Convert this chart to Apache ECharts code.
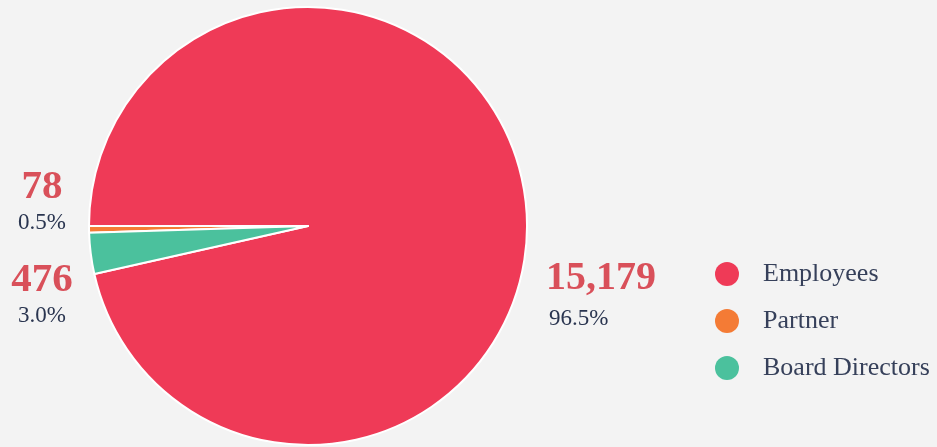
<!DOCTYPE html>
<html>
<head>
<meta charset="utf-8">
<script src="https://cdn.jsdelivr.net/npm/echarts@6/dist/echarts.min.js"></script>
<style>
html,body{margin:0;padding:0;background:#f3f3f3;}
#chart{width:937px;height:447px;}
</style>
</head>
<body>
<div id="chart"></div>
<script>
const categories = ['Employees', 'Partner', 'Board Directors'];
const values = [15179, 78, 476];
const colors = ['#EF3A57', '#F47B35', '#4BC19D'];

const total = values.reduce((a, b) => a + b, 0);
// counter-clockwise drawing so that Partner and Board sit just below 9 o'clock
const startAngle = 180 - 360 * values[0] / total + 360;

const labelPos = [
  { x: 546, y: 296, align: 'left' },
  { x: 42, y: 202, align: 'center' },
  { x: 42, y: 295, align: 'center' }
];

const serif = '"Liberation Serif", "DejaVu Serif", serif';

function fmt(n) { return n.toLocaleString('en-US'); }

const chart = echarts.init(document.getElementById('chart'));
chart.setOption({
  backgroundColor: '#f3f3f3',
  animation: false,
  legend: {
    orient: 'vertical',
    left: 710,
    top: 256,
    icon: 'circle',
    itemWidth: 24,
    itemHeight: 24,
    itemGap: 21,
    data: categories,
    itemStyle: { borderWidth: 0 },
    textStyle: {
      fontFamily: serif,
      fontSize: 26,
      color: '#36405A',
      padding: [0, 0, 0, 19]
    }
  },
  series: [{
    type: 'pie',
    center: [308, 226],
    radius: 219,
    startAngle: startAngle,
    clockwise: false,
    itemStyle: { borderColor: '#ffffff', borderWidth: 2 },
    labelLine: { show: false },
    emphasis: { disabled: true },
    label: {
      show: true,
      position: 'outside',
      overflow: 'none',
      formatter: p => '{n|' + fmt(p.value) + '}\n{p|' + p.percent.toFixed(1) + '%}',
      rich: {
        n: { fontFamily: serif, fontWeight: 'bold', fontSize: 41, color: '#D9505A', lineHeight: 42 },
        p: { fontFamily: serif, fontSize: 23, color: '#2A3550', lineHeight: 30 }
      }
    },
    labelLayout: function (params) {
      const lp = labelPos[params.dataIndex];
      return { x: lp.x, y: lp.y, align: lp.align, verticalAlign: 'middle' };
    },
    data: categories.map((c, i) => {
      const d = { name: c, value: values[i], itemStyle: { color: colors[i] } };
      if (i === 0) {
        d.label = {
          align: 'left',
          rich: {
            n: { fontFamily: serif, fontWeight: 'bold', fontSize: 40, color: '#D9505A', lineHeight: 46, align: 'left' },
            p: { fontFamily: serif, fontSize: 23, color: '#2A3550', lineHeight: 34, align: 'left', padding: [0, 0, 0, 3] }
          }
        };
      } else {
        d.label = { align: 'center' };
      }
      return d;
    })
  }]
});
</script>
</body>
</html>
